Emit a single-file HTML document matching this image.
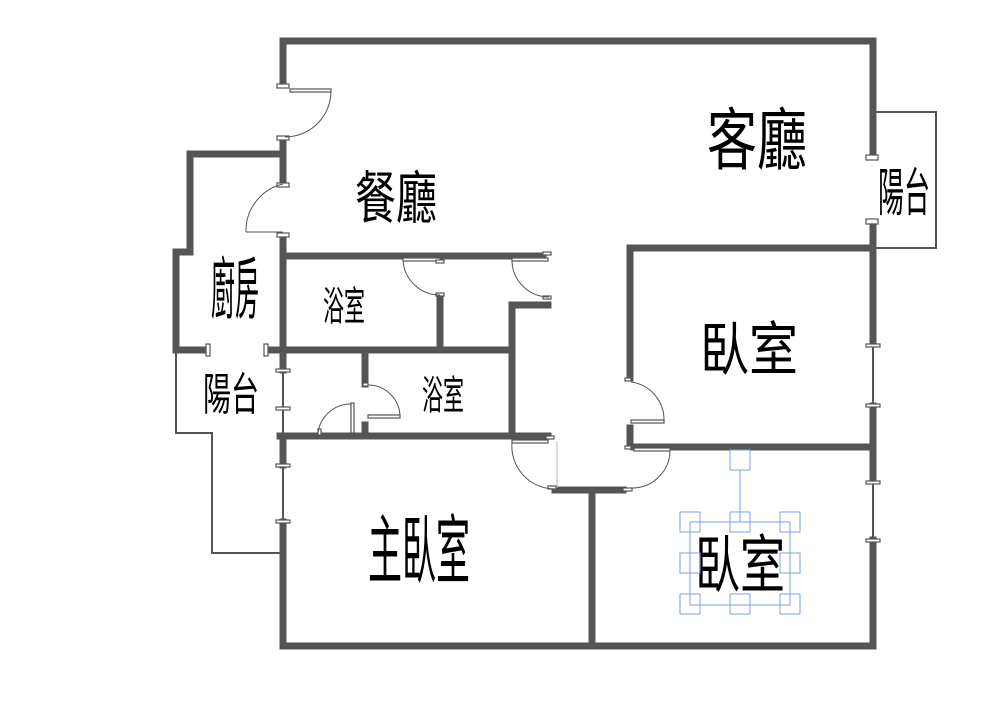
<!DOCTYPE html>
<html><head><meta charset="utf-8"><style>html,body{margin:0;padding:0;background:#fff}svg{display:block}</style></head>
<body>
<svg width="1000" height="721" viewBox="0 0 1000 721" xmlns="http://www.w3.org/2000/svg">
<rect width="1000" height="721" fill="#fff"/>
<g stroke="#555" stroke-width="7" stroke-linecap="square" fill="none">
<line x1="283" y1="41" x2="873" y2="41"/>
<line x1="873" y1="41" x2="873" y2="156"/>
<line x1="873" y1="222" x2="873" y2="340"/>
<line x1="873" y1="406" x2="873" y2="480"/>
<line x1="873" y1="540" x2="873" y2="646"/>
<line x1="283" y1="646" x2="873" y2="646"/>
<line x1="283" y1="41" x2="283" y2="84"/>
<line x1="283" y1="140" x2="283" y2="183"/>
<line x1="283" y1="240" x2="283" y2="370"/>
<line x1="283" y1="436" x2="283" y2="465"/>
<line x1="283" y1="522" x2="283" y2="646"/>
<line x1="190" y1="154" x2="283" y2="154"/>
<line x1="190" y1="154" x2="190" y2="252"/>
<line x1="176" y1="252" x2="190" y2="252"/>
<line x1="176" y1="252" x2="176" y2="350"/>
<line x1="176" y1="350" x2="205" y2="350"/>
<line x1="268" y1="350" x2="283" y2="350"/>
<line x1="283" y1="256" x2="543" y2="256"/>
<line x1="440" y1="297" x2="440" y2="343"/>
<line x1="283" y1="350" x2="512" y2="350"/>
<line x1="512" y1="305" x2="512" y2="436"/>
<line x1="512" y1="305" x2="548" y2="305"/>
<line x1="365" y1="352" x2="365" y2="384"/>
<line x1="365" y1="425" x2="365" y2="432"/>
<line x1="280" y1="436" x2="548" y2="436"/>
<line x1="555" y1="490" x2="623" y2="490"/>
<line x1="592" y1="490" x2="592" y2="646"/>
<line x1="630" y1="248" x2="873" y2="248"/>
<line x1="630" y1="248" x2="630" y2="378"/>
<line x1="630" y1="428" x2="630" y2="442"/>
<line x1="634" y1="447" x2="873" y2="447"/>
</g>
<g stroke="#555" stroke-width="2" fill="none">
<polyline points="176,350 176,433 212,433 212,553 283,553"/>
<polyline points="875,112 936,112 936,248 875,248"/>
<line x1="283" y1="370" x2="283" y2="436"/>
<line x1="283" y1="465" x2="283" y2="522"/>
<line x1="873" y1="340" x2="873" y2="406"/>
<line x1="873" y1="480" x2="873" y2="540"/>
</g>
<g fill="#fff" stroke="#555" stroke-width="1.2">
<rect x="277" y="84" width="12" height="4"/><rect x="277" y="136" width="12" height="4"/>
<rect x="290" y="89" width="41" height="3"/>
<rect x="277" y="183" width="12" height="4"/><rect x="277" y="233" width="12" height="4"/>
<rect x="206" y="344" width="4" height="12"/><rect x="264" y="344" width="4" height="12"/>
<rect x="276" y="369" width="14" height="3"/><rect x="276" y="407" width="14" height="3"/>
<rect x="276" y="464" width="14" height="3"/><rect x="276" y="520" width="14" height="3"/>
<rect x="866" y="155" width="12" height="5"/><rect x="866" y="219" width="12" height="5"/>
<rect x="866" y="344" width="14" height="3"/><rect x="866" y="404" width="14" height="3"/>
<rect x="866" y="481" width="14" height="3"/><rect x="866" y="539" width="14" height="3"/>
<rect x="403" y="258" width="37" height="3"/><rect x="436" y="260" width="8" height="3"/><rect x="436" y="293" width="8" height="3"/>
<rect x="512" y="258" width="36" height="3"/><rect x="543" y="252" width="8" height="3"/><rect x="543" y="296" width="8" height="3"/>
<rect x="363" y="383" width="5" height="3"/><rect x="368" y="415" width="32" height="3"/>
<rect x="318" y="429" width="3" height="6"/><rect x="351" y="403" width="3" height="30"/>
<rect x="512" y="440" width="36" height="3"/><rect x="546" y="436" width="8" height="3"/><rect x="548" y="486" width="8" height="3"/>
<rect x="625" y="378" width="6" height="3"/><rect x="631" y="420" width="33" height="3"/>
<rect x="625" y="446" width="6" height="3"/><rect x="634" y="448" width="36" height="3"/><rect x="623" y="488" width="9" height="3"/>
</g>
<g stroke="#555" stroke-width="1" fill="none">
<path d="M331,91 A46,46 0 0 1 285,137"/>
<path d="M283,184 A48,48 0 0 0 246,232"/>
<line x1="246" y1="232" x2="283" y2="232"/>
<path d="M403,260 A37,37 0 0 0 440,295"/>
<path d="M512,260 A37,37 0 0 0 549,297"/>
<path d="M368,385 A32,32 0 0 1 400,417"/>
<path d="M351,404 A33,33 0 0 0 318,433"/>
<path d="M512,442 A43,43 0 0 0 555,489"/>
<line x1="557" y1="441" x2="557" y2="488" stroke="#bbb"/>
<path d="M631,382 A38,38 0 0 1 664,420"/>
<path d="M670,451 A38,38 0 0 1 632,488"/>
</g>
<g font-family="'Liberation Sans','Noto Sans CJK TC',sans-serif" fill="#000" text-anchor="middle">
<text transform="translate(757,164) scale(1,1.35)" font-size="50">客廳</text>
<text transform="translate(396,218) scale(1,1.38)" font-size="41">餐廳</text>
<text transform="translate(235,313) scale(1,2.8)" font-size="24">廚房</text>
<text transform="translate(344,320) scale(1,1.9)" font-size="21">浴室</text>
<text transform="translate(443,409) scale(1,1.9)" font-size="21">浴室</text>
<text transform="translate(231,410) scale(1,1.6)" font-size="28">陽台</text>
<text transform="translate(904,211) scale(1,2)" font-size="26">陽台</text>
<text transform="translate(749,370) scale(1,1.2)" font-size="49">臥室</text>
<text transform="translate(419,577) scale(1,2.2)" font-size="34">主臥室</text>
<text transform="translate(740,587) scale(1,1.4)" font-size="45">臥室</text>
</g>
<g stroke="#7f9fe0" stroke-width="1" fill="none">
<rect x="690" y="522" width="100" height="83"/>
<line x1="740" y1="470" x2="740" y2="522"/>
<rect x="730" y="450" width="20" height="20"/>
<rect x="680" y="512" width="20" height="20"/><rect x="730" y="512" width="20" height="20"/><rect x="780" y="512" width="20" height="20"/>
<rect x="680" y="553" width="20" height="20"/><rect x="780" y="553" width="20" height="20"/>
<rect x="680" y="594" width="20" height="20"/><rect x="730" y="594" width="20" height="20"/><rect x="780" y="594" width="20" height="20"/>
</g>
</svg>
</body></html>
